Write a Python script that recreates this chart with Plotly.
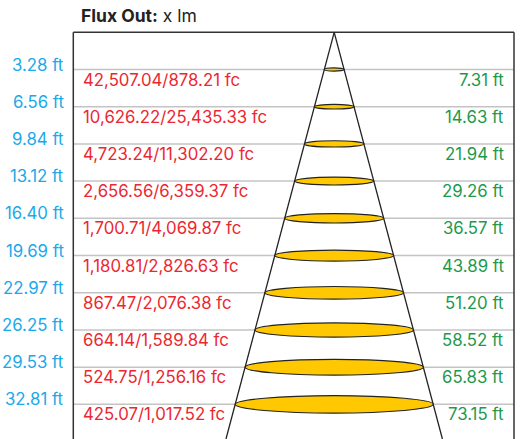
import plotly.graph_objects as go

# ---- data ----
distances_ft = [3.28, 6.56, 9.84, 13.12, 16.40, 19.69, 22.97, 26.25, 29.53, 32.81]
lux_values = [42507.04, 10626.22, 4723.24, 2656.56, 1700.71, 1180.81, 867.47, 664.14, 524.75, 425.07]
fc_values = [878.21, 25435.33, 11302.20, 6359.37, 4069.87, 2826.63, 2076.38, 1589.84, 1256.16, 1017.52]
beam_diam_ft = [7.31, 14.63, 21.94, 29.26, 36.57, 43.89, 51.20, 58.52, 65.83, 73.15]
title_bold = "Flux Out:"
title_rest = " x lm"

# ---- layout geometry (pixels) ----
W, H = 525, 439
APEX_PX_X = 334.2      # pixel x of beam axis
TOP_PX_Y = 32.3        # pixel y of distance 0
PX_PER_FT_X = 2.707    # pixels per ft (beam diameter)
PX_PER_FT_Y = 11.34    # pixels per ft (distance)
FRAME_L, FRAME_R = 73.3, 514.0

x_range = [(0 - APEX_PX_X) / PX_PER_FT_X, (W - APEX_PX_X) / PX_PER_FT_X]
y_range = [(H - TOP_PX_Y) / PX_PER_FT_Y, (0 - TOP_PX_Y) / PX_PER_FT_Y]

BLUE = "#1aa9ea"
RED = "#ec2730"
GREEN = "#1b9a4c"
GOLD = "#ffc800"
FONT = "Inter, Roboto, Arial, sans-serif"
FS = 16.8

fig = go.Figure()
fig.add_trace(go.Scatter(x=[0], y=[0], mode="markers", marker=dict(opacity=0), hoverinfo="skip", showlegend=False))

shapes = []
for d in distances_ft:
    shapes.append(dict(type="line", xref="paper", yref="y", x0=FRAME_L / W, x1=FRAME_R / W, y0=d, y1=d,
                       line=dict(color="#c4c4c4", width=1.5), layer="below"))
shapes.append(dict(type="line", xref="paper", yref="y", x0=FRAME_L / W, x1=FRAME_R / W, y0=0, y1=0,
                   line=dict(color="#333333", width=1.5)))
shapes.append(dict(type="line", xref="paper", yref="y", x0=FRAME_L / W, x1=FRAME_L / W, y0=0, y1=y_range[0],
                   line=dict(color="#333333", width=1.5)))
shapes.append(dict(type="line", xref="paper", yref="y", x0=FRAME_R / W, x1=FRAME_R / W, y0=0, y1=y_range[0],
                   line=dict(color="#333333", width=1.5)))
slope = (beam_diam_ft[-1] / 2) / distances_ft[-1]
yb = y_range[0]
for sgn in (-1, 1):
    shapes.append(dict(type="line", xref="x", yref="y", x0=0, y0=0, x1=sgn * slope * yb, y1=yb,
                       line=dict(color="#222222", width=1.3)))
for d, dia in zip(distances_ft, beam_diam_ft):
    w_px = dia * PX_PER_FT_X
    h_px = 1.5 + 0.08 * w_px
    h = h_px / PX_PER_FT_Y
    shapes.append(dict(type="circle", xref="x", yref="y", x0=-dia / 2, x1=dia / 2, y0=d - h / 2, y1=d + h / 2,
                       fillcolor=GOLD, line=dict(color="#222222", width=1.2)))

annotations = []
for d, lx, fc, dia in zip(distances_ft, lux_values, fc_values, beam_diam_ft):
    annotations.append(dict(xref="paper", yref="y", x=66 / W, y=d, xanchor="right", yanchor="middle",
                            yshift=5, text=f"{d:.2f} ft", showarrow=False,
                            font=dict(family=FONT, size=FS, color=BLUE)))
    annotations.append(dict(xref="paper", yref="y", x=81 / W, y=d, xanchor="left", yanchor="middle",
                            yshift=-10, text=f"{lx:,.2f}/{fc:,.2f} fc", showarrow=False,
                            font=dict(family=FONT, size=FS, color=RED)))
    annotations.append(dict(xref="paper", yref="y", x=506 / W, y=d, xanchor="right", yanchor="middle",
                            yshift=-10, text=f"{dia:.2f} ft", showarrow=False,
                            font=dict(family=FONT, size=FS, color=GREEN)))
annotations.append(dict(xref="paper", yref="paper", x=79 / W, y=1 - 16 / H, xanchor="left", yanchor="middle",
                        text=f"<b>{title_bold}</b>{title_rest}", showarrow=False,
                        font=dict(family=FONT, size=17.5, color="#222222")))

fig.update_layout(
    width=W, height=H, autosize=False,
    margin=dict(l=0, r=0, t=0, b=0, pad=0),
    paper_bgcolor="white", plot_bgcolor="white",
    xaxis=dict(range=x_range, visible=False, fixedrange=True),
    yaxis=dict(range=y_range, visible=False, fixedrange=True),
    shapes=shapes, annotations=annotations, showlegend=False,
)
fig.write_html("out.html", config=dict(displayModeBar=False),
               post_script="document.body.style.margin='0';document.body.style.overflow='hidden';")
